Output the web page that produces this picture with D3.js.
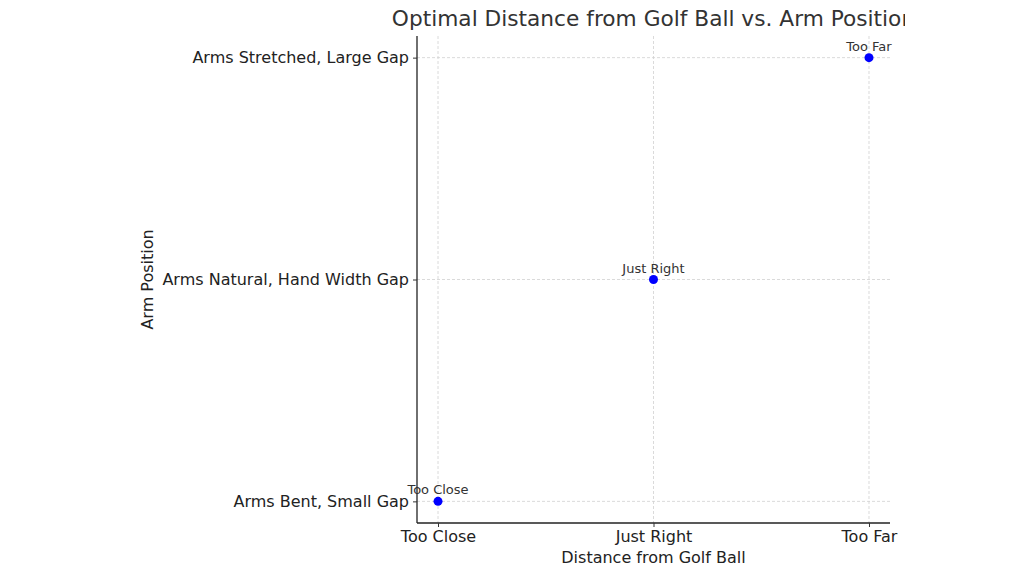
<!DOCTYPE html>
<html>
<head>
<meta charset="utf-8">
<script src="https://cdn.jsdelivr.net/npm/d3@7"></script>
<style>
  body { margin: 0; background: #fff; }
  text { font-family: "DejaVu Sans", sans-serif; }
  .grid line { stroke: #d0d0d0; stroke-dasharray: 3,2; stroke-width: 0.8; }
</style>
</head>
<body>
<svg id="chart" width="1024" height="576"></svg>
<script>
const distCategories = ["Too Close", "Just Right", "Too Far"];
const armCategories = ["Arms Bent, Small Gap", "Arms Natural, Hand Width Gap", "Arms Stretched, Large Gap"];
const pointDist = ["Too Close", "Just Right", "Too Far"];
const pointArm = ["Arms Bent, Small Gap", "Arms Natural, Hand Width Gap", "Arms Stretched, Large Gap"];
const pointLabels = ["Too Close", "Just Right", "Too Far"];

const plotLeft = 417, plotRight = 890, plotTop = 36, plotBottom = 523;
const svg = d3.select("#chart");

// clip everything at the right edge like the reference
svg.append("clipPath").attr("id", "fig").append("rect")
  .attr("x", 0).attr("y", 0).attr("width", 905).attr("height", 576);
const g = svg.append("g").attr("clip-path", "url(#fig)");

const x = d3.scalePoint().domain(distCategories).range([plotLeft, plotRight]).padding(0.0975);
const y = d3.scalePoint().domain(armCategories).range([plotBottom, plotTop]).padding(0.0975);

// Grid
g.append("g").attr("class", "grid")
  .selectAll("line.v").data(distCategories).enter()
  .append("line")
  .attr("x1", function (d) { return x(d); })
  .attr("x2", function (d) { return x(d); })
  .attr("y1", plotTop).attr("y2", plotBottom);
g.append("g").attr("class", "grid")
  .selectAll("line.h").data(armCategories).enter()
  .append("line")
  .attr("y1", function (d) { return y(d); })
  .attr("y2", function (d) { return y(d); })
  .attr("x1", plotLeft).attr("x2", plotRight);

// Axes
const xAxis = g.append("g")
  .attr("transform", "translate(0," + plotBottom + ")")
  .call(d3.axisBottom(x).tickSize(4).tickPadding(4));
const yAxis = g.append("g")
  .attr("transform", "translate(" + plotLeft + ",0)")
  .call(d3.axisLeft(y).tickSize(4).tickPadding(4));
xAxis.select(".domain").attr("d", "M" + plotLeft + ",0H" + plotRight);
yAxis.select(".domain").attr("d", "M0," + plotTop + "V" + plotBottom);
[xAxis, yAxis].forEach(function (a) {
  a.select(".domain").attr("stroke", "#222").attr("stroke-width", 1.3);
  a.selectAll(".tick line").attr("stroke", "#333");
  a.selectAll(".tick text").attr("fill", "#222").style("font-size", "16px");
});

// Points
g.selectAll("circle.pt").data(pointDist).enter()
  .append("circle")
  .attr("cx", function (d) { return x(d); })
  .attr("cy", function (d, i) { return y(pointArm[i]); })
  .attr("r", 4.5)
  .attr("fill", "#0000ff");

// Annotations
g.selectAll("text.ann").data(pointLabels).enter()
  .append("text")
  .attr("x", function (d, i) { return x(pointDist[i]); })
  .attr("y", function (d, i) { return y(pointArm[i]) - 7; })
  .attr("text-anchor", "middle")
  .attr("fill", "#333")
  .style("font-size", "13px")
  .text(function (d) { return d; });

// Title and labels
g.append("text")
  .attr("x", (plotLeft + plotRight) / 2).attr("y", 26)
  .attr("text-anchor", "middle")
  .attr("fill", "#333")
  .style("font-size", "21.7px")
  .text("Optimal Distance from Golf Ball vs. Arm Position");
g.append("text")
  .attr("x", (plotLeft + plotRight) / 2).attr("y", 563)
  .attr("text-anchor", "middle")
  .attr("fill", "#222")
  .style("font-size", "16px")
  .text("Distance from Golf Ball");
g.append("text")
  .attr("transform", "translate(153," + (plotTop + plotBottom) / 2 + ") rotate(-90)")
  .attr("text-anchor", "middle")
  .attr("fill", "#222")
  .style("font-size", "16px")
  .text("Arm Position");
</script>
</body>
</html>
